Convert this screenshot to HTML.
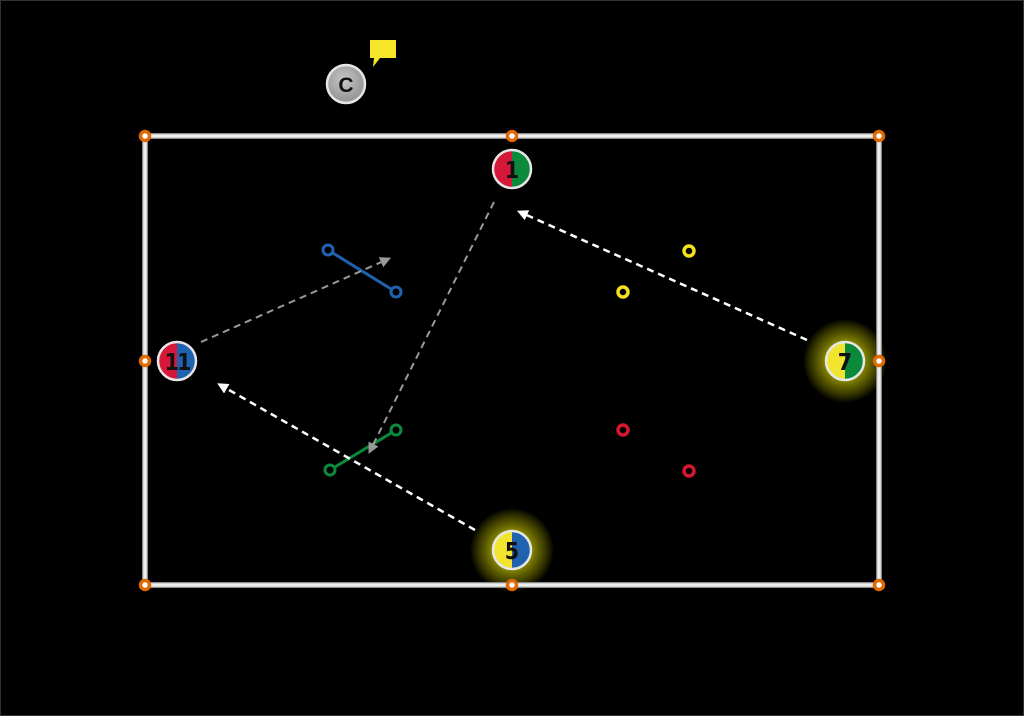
<!DOCTYPE html>
<html><head><meta charset="utf-8"><style>
html,body{margin:0;padding:0;background:#000;}
svg{display:block;}
text{font-family:"Liberation Sans",sans-serif;font-weight:bold;}
.n{font-family:"DejaVu Sans Condensed","Liberation Sans Narrow","Liberation Sans",sans-serif;}
</style></head><body>
<svg width="1024" height="716" viewBox="0 0 1024 716" xmlns="http://www.w3.org/2000/svg">
<defs>
<radialGradient id="glow"><stop offset="0.4" stop-color="#ffff00" stop-opacity="0.6"/><stop offset="0.7" stop-color="#dddd00" stop-opacity="0.35"/><stop offset="1" stop-color="#ffff00" stop-opacity="0"/></radialGradient>
<radialGradient id="cg" cx="0.45" cy="0.4"><stop offset="0" stop-color="#c8c8c8"/><stop offset="1" stop-color="#9a9a9a"/></radialGradient>
<marker id="ag" viewBox="0 0 10 10" refX="5" refY="5" markerWidth="11" markerHeight="11" markerUnits="userSpaceOnUse" orient="auto"><path d="M0,0L10,5L0,10z" fill="#999"/></marker>
<marker id="aw" viewBox="0 0 10 10" refX="5" refY="5" markerWidth="11" markerHeight="11" markerUnits="userSpaceOnUse" orient="auto"><path d="M0,0L10,5L0,10z" fill="#fff"/></marker>
</defs>
<rect x="0.5" y="0.5" width="1023" height="715" fill="#000" stroke="#333"/>
<circle cx="845" cy="361" r="42" fill="url(#glow)"/>
<circle cx="512" cy="550" r="42" fill="url(#glow)"/>
<rect x="145" y="136" width="734" height="449" fill="none" stroke="#888" stroke-width="6"/>
<rect x="145" y="136" width="734" height="449" fill="none" stroke="#eee" stroke-width="3.5"/>
<g fill="#fff" stroke="#e06a00" stroke-width="3.5">
<circle cx="145" cy="136" r="4.5"/><circle cx="512" cy="136" r="4.5"/><circle cx="879" cy="136" r="4.5"/>
<circle cx="145" cy="361" r="4.5"/><circle cx="879" cy="361" r="4.5"/>
<circle cx="145" cy="585" r="4.5"/><circle cx="512" cy="585" r="4.5"/><circle cx="879" cy="585" r="4.5"/>
</g>
<line x1="328" y1="250" x2="396" y2="292" stroke="#1f62b0" stroke-width="3"/>
<circle cx="328" cy="250" r="5" fill="#000" stroke="#1f62b0" stroke-width="3"/>
<circle cx="396" cy="292" r="5" fill="#000" stroke="#1f62b0" stroke-width="3"/>
<line x1="330" y1="470" x2="396" y2="430" stroke="#0b8a3c" stroke-width="3"/>
<circle cx="330" cy="470" r="5" fill="#000" stroke="#0b8a3c" stroke-width="3"/>
<circle cx="396" cy="430" r="5" fill="#000" stroke="#0b8a3c" stroke-width="3"/>
<g fill="#000" stroke-width="3.5">
<circle cx="689" cy="251" r="5" stroke="#f2e21b"/><circle cx="623" cy="292" r="5" stroke="#f2e21b"/>
<circle cx="623" cy="430" r="5" stroke="#d5182f"/><circle cx="689" cy="471" r="5" stroke="#d5182f"/>
</g>
<line x1="201" y1="342" x2="386" y2="260" stroke="#999" stroke-width="2" stroke-dasharray="7,5" marker-end="url(#ag)"/>
<line x1="494" y1="202" x2="371" y2="449" stroke="#999" stroke-width="2" stroke-dasharray="7,5" marker-end="url(#ag)"/>
<line x1="807" y1="340" x2="522" y2="213" stroke="#fff" stroke-width="2.5" stroke-dasharray="7,5" marker-end="url(#aw)"/>
<line x1="475" y1="530" x2="222" y2="386" stroke="#fff" stroke-width="2.5" stroke-dasharray="7,5" marker-end="url(#aw)"/>
<circle cx="346" cy="84" r="19" fill="url(#cg)" stroke="#e6e6e6" stroke-width="2.5"/>
<text x="346" y="92" font-size="21" text-anchor="middle" fill="#111">C</text>
<path d="M370,40H396V58H380L373,67L374,58H370Z" fill="#f7e52a"/>
<g>
<path d="M512,150A19,19 0 0 0 512,188Z" fill="#d5183a"/><path d="M512,150A19,19 0 0 1 512,188Z" fill="#0b8a3c"/>
<circle cx="512" cy="169" r="19" fill="none" stroke="#e6e6e6" stroke-width="2.5"/>
<text class="n" x="512" y="178" font-size="23" text-anchor="middle" fill="#111">1</text>
</g>
<g>
<path d="M177,342A19,19 0 0 0 177,380Z" fill="#d5183a"/><path d="M177,342A19,19 0 0 1 177,380Z" fill="#1f62b0"/>
<circle cx="177" cy="361" r="19" fill="none" stroke="#e6e6e6" stroke-width="2.5"/>
<text class="n" x="177" y="370" font-size="23" text-anchor="middle" fill="#111" letter-spacing="-2">11</text>
</g>
<g>
<path d="M845,342A19,19 0 0 0 845,380Z" fill="#f2e530"/><path d="M845,342A19,19 0 0 1 845,380Z" fill="#0b8a3c"/>
<circle cx="845" cy="361" r="19" fill="none" stroke="#e6e6e6" stroke-width="2.5"/>
<text class="n" x="845" y="370" font-size="23" text-anchor="middle" fill="#111">7</text>
</g>
<g>
<path d="M512,531A19,19 0 0 0 512,569Z" fill="#f2e530"/><path d="M512,531A19,19 0 0 1 512,569Z" fill="#1f62b0"/>
<circle cx="512" cy="550" r="19" fill="none" stroke="#e6e6e6" stroke-width="2.5"/>
<text class="n" x="512" y="559" font-size="23" text-anchor="middle" fill="#111">5</text>
</g>
</svg>
</body></html>
